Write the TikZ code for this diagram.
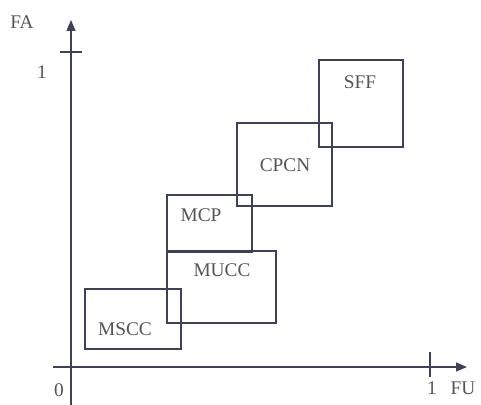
\documentclass[tikz,border=0pt]{standalone}
\usepackage{fontspec}
\setmainfont{Liberation Serif}
\usetikzlibrary{arrows.meta,positioning,calc}
\definecolor{InkLine}{HTML}{3F4257}
\definecolor{InkText}{HTML}{555555}

\begin{document}
\begin{tikzpicture}[
    x=0.02cm,y=-0.02cm,
    >={Triangle[length=2.2mm,width=1.8mm]},
    region/.style={draw=InkLine,line width=0.8pt,inner sep=0pt},
    tag/.style={text=InkText,font=\fontsize{11}{13}\selectfont,inner sep=1pt},
    axis/.style={draw=InkLine,line width=0.8pt}
  ]
    \useasboundingbox (0,0) rectangle (481,405);

    % axes
    \coordinate (xstart) at (53,367);
    \coordinate (xend) at (467,367);
    \coordinate (ystart) at (71,405);
    \coordinate (yend) at (71,20);
    \draw[axis,->] (xstart) -- (xend);
    \draw[axis,->] (ystart) -- (yend);
    \draw[axis] (60,52) -- (82,52);
    \draw[axis] (430,352) -- (430,377);
    \node[tag] (fa) at (22,22) {FA};
    \node[tag] (yone) at (42,72) {1};
    \node[tag] (zero) at (59,390) {0};
    \node[tag] (xone) at (432,388) {1};
    \node[tag] (fu) at (463,388) {FU};

    % regions
    \node[region,minimum width=1.92cm,minimum height=1.2cm] (mscc) at (133,319) {};
    \node[region,minimum width=2.18cm,minimum height=1.44cm] (mucc) at (221.5,287) {};
    \node[region,minimum width=1.7cm,minimum height=1.14cm] (mcp) at (209.5,223.5) {};
    \node[region,minimum width=1.9cm,minimum height=1.66cm] (cpcn) at (284.5,164.5) {};
    \node[region,minimum width=1.68cm,minimum height=1.74cm] (sff) at (361,103.5) {};

    \node[tag] (mscclabel) at (125,329) {MSCC};
    \node[tag] (mucclabel) at (222,270) {MUCC};
    \node[tag] (mcplabel) at (201,215) {MCP};
    \node[tag] (cpcnlabel) at (285,165) {CPCN};
    \node[tag] (sfflabel) at (360,82) {SFF};
  \end{tikzpicture}
\end{document}
